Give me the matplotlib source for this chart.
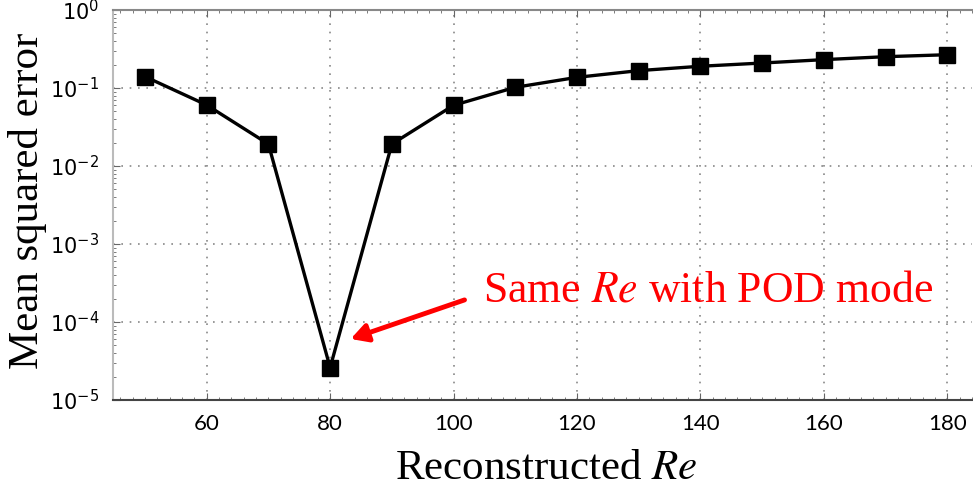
import numpy as np
import matplotlib
matplotlib.use("Agg")
import matplotlib.pyplot as plt
from matplotlib.ticker import MultipleLocator, LogLocator, NullFormatter

re_values = [50, 60, 70, 80, 90, 100, 110, 120, 130, 140, 150, 160, 170, 180]
mse = [0.14, 0.0605, 0.0191, 2.6e-5, 0.0191, 0.060, 0.102, 0.137, 0.167,
       0.19, 0.209, 0.231, 0.252, 0.267]
x_ticks = [60, 80, 100, 120, 140, 160, 180]

plt.rcParams['mathtext.fontset'] = 'stix'

fig = plt.figure(figsize=(9.73, 4.9), dpi=100)
ax = fig.add_axes([0.116, 0.1837, 0.883, 0.7959])

ax.plot(re_values, mse, color='black', linewidth=2.4, marker='s',
        markersize=12, markerfacecolor='black', markeredgecolor='black')

ax.set_yscale('log')
ax.set_ylim(1e-5, 1e0)
ax.set_xlim(44.8, 184)
ax.set_xticks(x_ticks)
ax.xaxis.set_minor_locator(MultipleLocator(2))
ax.yaxis.set_major_locator(LogLocator(base=10, numticks=10))
ax.yaxis.set_minor_locator(LogLocator(base=10, subs=np.arange(2, 10), numticks=20))
ax.yaxis.set_minor_formatter(NullFormatter())

ax.grid(True, which='major', linestyle=(0, (1, 4)), color='#888888', linewidth=1.2)
ax.tick_params(which='both', direction='in', top=True, right=False, color='#666666')
ax.tick_params(which='major', length=5, labelsize=15, pad=10)
ax.tick_params(which='minor', length=2.5)
for lab in ax.get_xticklabels():
    lab.set_family('Lato')
    lab.set_fontsize(16)

ax.spines['right'].set_visible(False)
ax.spines['left'].set_color('#bbbbbb')
ax.spines['left'].set_linewidth(1.5)
ax.spines['top'].set_color('#888888')
ax.spines['top'].set_linewidth(1.5)
ax.spines['bottom'].set_color('#444444')
ax.spines['bottom'].set_linewidth(1.5)

ax.set_ylabel('Mean squared error', fontsize=31, family='Liberation Serif')
ax.yaxis.set_label_coords(-0.077, 0.51)
ax.set_xlabel('Reconstructed $\\mathit{Re}$', fontsize=31, family='Liberation Serif')
ax.xaxis.set_label_coords(0.505, -0.128)

ax.text(104.8, 2.5e-4, 'Same $\\mathit{Re}$ with POD mode', color='red',
        fontsize=31.5, family='Liberation Serif', ha='left', va='center')
ax.annotate('', xy=(82.9, 5.9e-5), xytext=(102.2, 1.97e-4),
            arrowprops=dict(arrowstyle='-|>,head_length=1.0,head_width=0.55',
                            color='red', linewidth=3.5))

fig.savefig('out.png', dpi=100)
